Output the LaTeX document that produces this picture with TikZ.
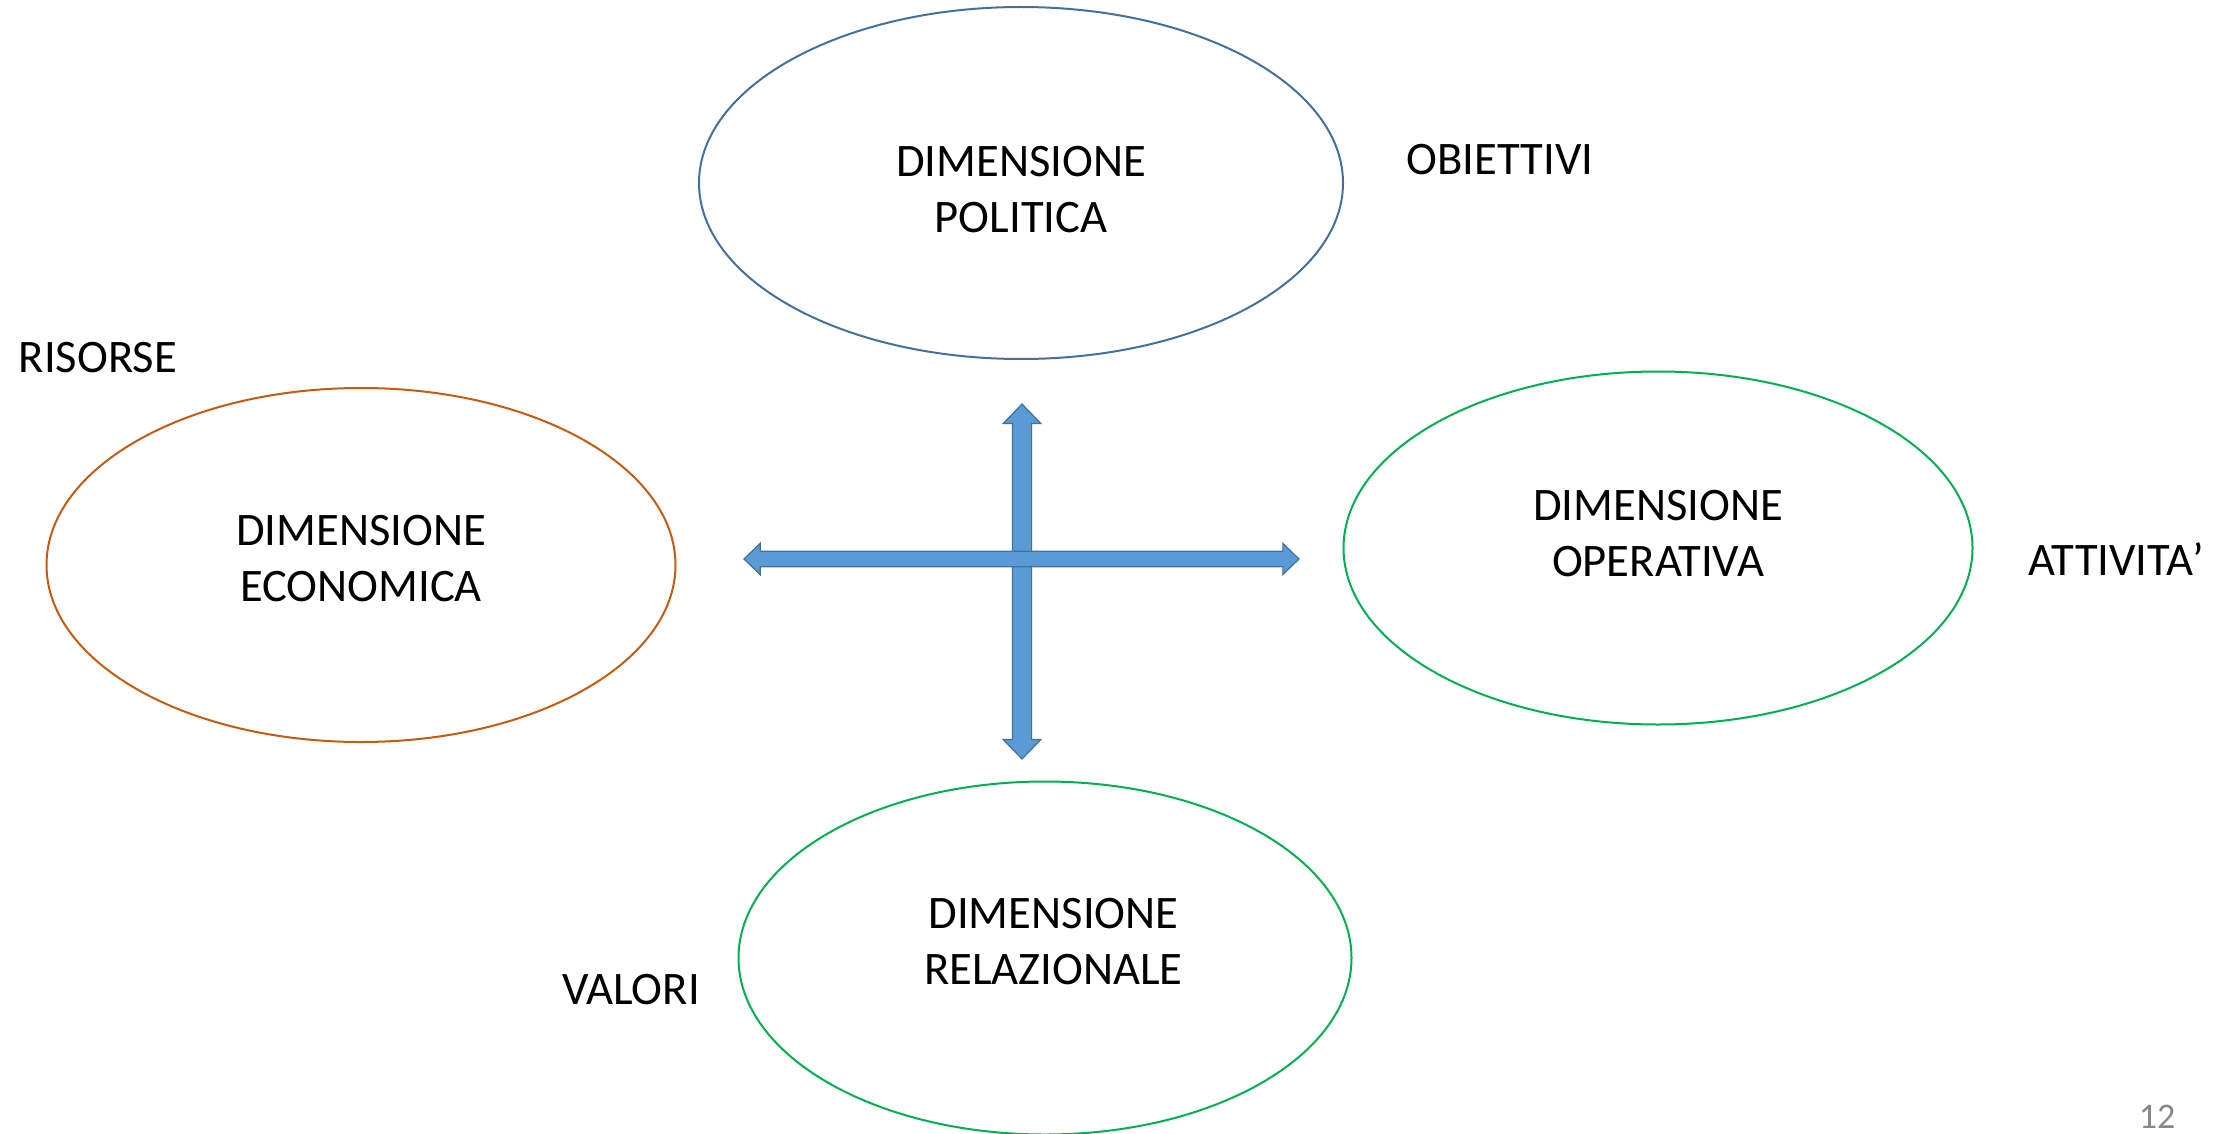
\documentclass[tikz,border=0pt]{standalone}
\usepackage{fontspec}
\setmainfont{Carlito}
\usetikzlibrary{shapes.geometric,shapes.arrows}
\definecolor{polblue}{HTML}{41719C}
\definecolor{ecoorange}{HTML}{C55A11}
\definecolor{opgreen}{HTML}{00B050}
\definecolor{arrowfill}{HTML}{5B9BD5}
\definecolor{pagegray}{HTML}{888888}

\begin{document}
\begin{tikzpicture}[
    x=0.5pt, y=-0.5pt,
    dim/.style={ellipse, draw, line width=1pt, inner sep=0pt},
    dimtext/.style={inner sep=0pt, align=center, font=\fontsize{23.3}{28}\selectfont},
    tag/.style={inner sep=0pt, font=\fontsize{23.3}{28}\selectfont},
    blockarrow/.style={double arrow, draw=polblue, fill=arrowfill, line width=0.6pt,
      inner xsep=0pt, double arrow tip angle=88},
  ]
  \useasboundingbox (0,0) rectangle (2236,1134);

  % the two crossing block arrows
  \node[blockarrow, rotate=90, minimum height=177.5pt, inner ysep=4.5pt,
    double arrow head extend=4.6pt] (vert) at (1022,581.5) {};
  \node[blockarrow, minimum height=277.5pt, inner ysep=3.6pt,
    double arrow head extend=3.9pt] (horiz) at (1021.5,559) {};

  % the four dimensions
  \node[dim, draw=polblue, minimum width=322pt, minimum height=176pt] (pol) at (1021,183) {};
  \node[dim, draw=ecoorange, minimum width=314.5pt, minimum height=177pt] (eco) at (361,565) {};
  \node[dim, draw=opgreen, minimum width=314.5pt, minimum height=176.5pt] (op) at (1658,548) {};
  \node[dim, draw=opgreen, minimum width=306.5pt, minimum height=176.5pt] (rel) at (1045,958) {};

  \node[dimtext] (poltext) at (1021,189.5) {DIMENSIONE\\POLITICA};
  \node[dimtext] (ecotext) at (361,559) {DIMENSIONE\\ECONOMICA};
  \node[dimtext] (optext) at (1658,534) {DIMENSIONE\\OPERATIVA};
  \node[dimtext] (reltext) at (1053.5,941.5) {DIMENSIONE\\RELAZIONALE};

  % what each one stands for
  \node[tag] (obiettivi) at (1500,160) {OBIETTIVI};
  \node[tag] (risorse) at (98,358) {RISORSE};
  \node[tag] (attivita) at (2116,559) {ATTIVITA’};
  \node[tag] (valori) at (631,990) {VALORI};

  \node[inner sep=0pt, text=pagegray, font=\fontsize{18}{20}\selectfont] (page) at (2157,1117) {12};
\end{tikzpicture}
\end{document}
